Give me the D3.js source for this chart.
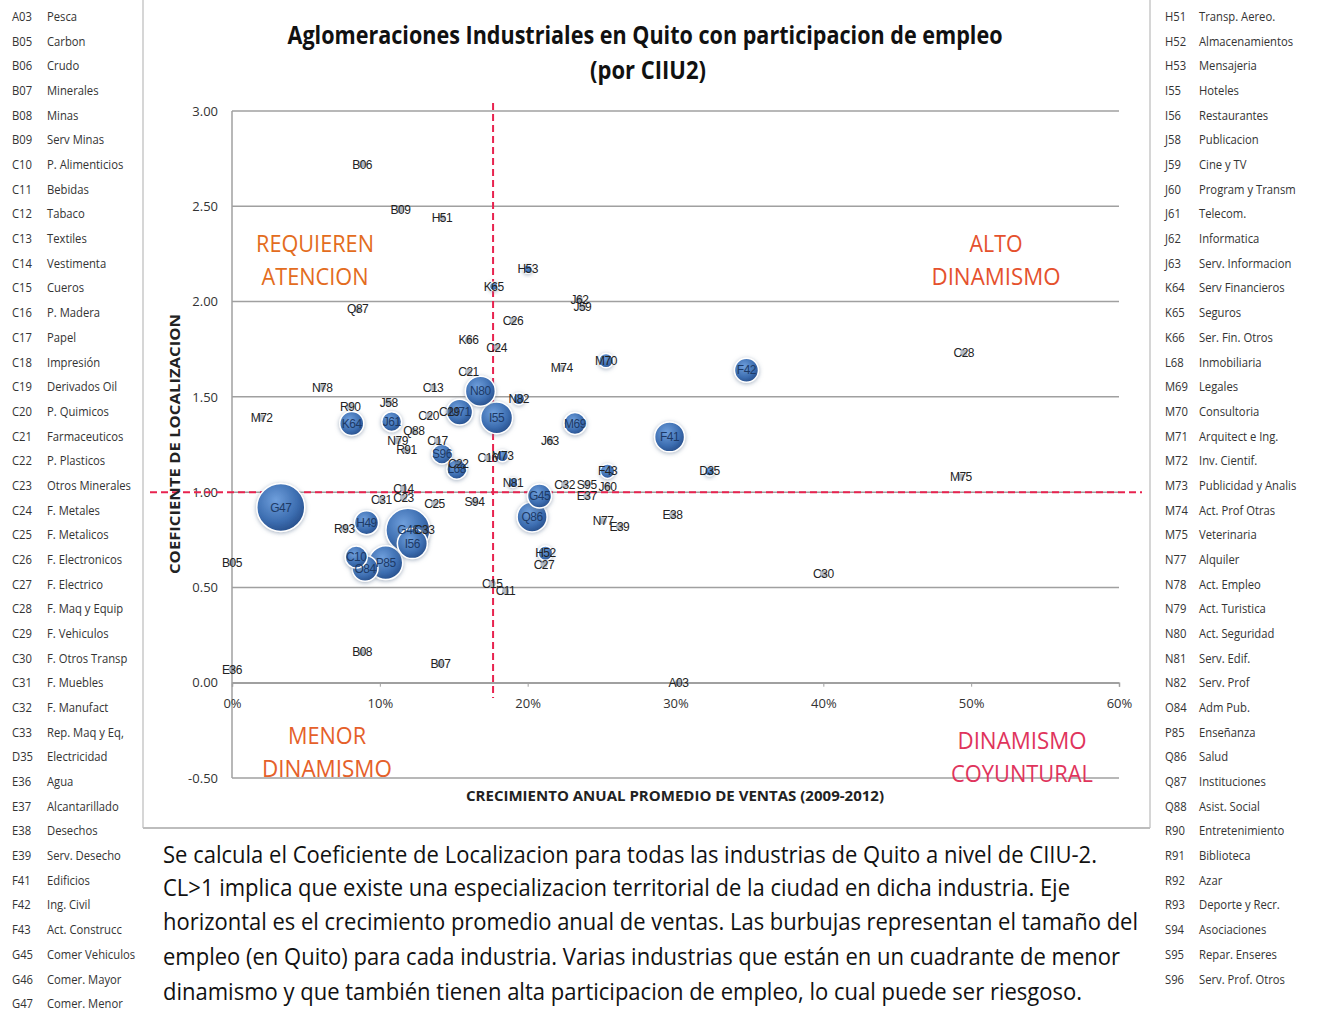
<!DOCTYPE html>
<html><head><meta charset="utf-8">
<script src="https://cdn.jsdelivr.net/npm/d3@7"></script>
<style>
html,body{margin:0;padding:0;background:#fff;}
svg{display:block;}
</style></head>
<body>
<svg id="chart" width="1319" height="1011"></svg>
<script>
// ---------- DATA ----------
const legendCodes = ["A03","B05","B06","B07","B08","B09","C10","C11","C12","C13","C14","C15","C16","C17","C18","C19","C20","C21","C22","C23","C24","C25","C26","C27","C28","C29","C30","C31","C32","C33","D35","E36","E37","E38","E39","F41","F42","F43","G45","G46","G47",
 "H51","H52","H53","I55","I56","J58","J59","J60","J61","J62","J63","K64","K65","K66","L68","M69","M70","M71","M72","M73","M74","M75","N77","N78","N79","N80","N81","N82","O84","P85","Q86","Q87","Q88","R90","R91","R92","R93","S94","S95","S96"];
const legendNames = ["Pesca","Carbon","Crudo","Minerales","Minas","Serv Minas","P. Alimenticios","Bebidas","Tabaco","Textiles","Vestimenta","Cueros","P. Madera","Papel","Impresión","Derivados Oil","P. Quimicos","Farmaceuticos","P. Plasticos","Otros Minerales","F. Metales","F. Metalicos","F. Electronicos","F. Electrico","F. Maq y Equip","F. Vehiculos","F. Otros Transp","F. Muebles","F. Manufact","Rep. Maq y Eq,","Electricidad","Agua","Alcantarillado","Desechos","Serv. Desecho","Edificios","Ing. Civil","Act. Construcc","Comer Vehiculos","Comer. Mayor","Comer. Menor",
 "Transp. Aereo.","Almacenamientos","Mensajeria","Hoteles","Restaurantes","Publicacion","Cine y TV","Program y Transm","Telecom.","Informatica","Serv. Informacion","Serv Financieros","Seguros","Ser. Fin. Otros","Inmobiliaria","Legales","Consultoria","Arquitect e Ing.","Inv. Cientif.","Publicidad y Analis","Act. Prof Otras","Veterinaria","Alquiler","Act. Empleo","Act. Turistica","Act. Seguridad","Serv. Edif.","Serv. Prof","Adm Pub.","Enseñanza","Salud","Instituciones","Asist. Social","Entretenimiento","Biblioteca","Azar","Deporte y Recr.","Asociaciones","Repar. Enseres","Serv. Prof. Otros"];

const pointCodes = ["A03","B05","B06","B07","B08","B09","C10","C11","C13","C14","C15","C16","C17","C20","C21","C22","C23","C24","C25","C26","C27","C28","C29","C30","C31","C32","C33","D35","E36","E37","E38","E39","F41","F42","F43","G45","G46","G47","H49","H51","H52","H53","I55","I56","J58","J59","J60","J61","J62","J63","K64","K65","K66","L68","M69","M70","M71","M72","M73","M74","M75","N77","N78","N79","N80","N81","N82","O84","P85","Q86","Q87","Q88","R90","R91","R93","S94","S95","S96"];
// crecimiento anual promedio de ventas (%)
const growth = [30.2,0.0,8.8,14.1,8.8,11.4,8.4,18.5,13.6,11.6,17.6,17.3,13.9,13.3,16.0,15.3,11.6,17.9,13.7,19.0,21.1,49.5,14.7,40.0,10.1,22.5,13.0,32.3,0.0,24.0,29.8,26.2,29.6,34.8,25.4,20.8,11.9,3.3,9.1,14.2,21.2,20.0,17.9,12.2,10.6,23.7,25.4,10.8,23.5,21.5,8.1,17.7,16.0,15.2,23.2,25.3,15.4,2.0,18.3,22.3,49.3,25.1,6.1,11.2,16.8,19.0,19.4,9.0,10.4,20.3,8.5,12.3,8.0,11.8,7.6,16.4,24.0,14.2];
// coeficiente de localizacion
const locCoef = [0.00,0.63,2.72,0.10,0.16,2.48,0.66,0.48,1.55,1.02,0.52,1.18,1.27,1.40,1.63,1.15,0.97,1.76,0.94,1.90,0.62,1.73,1.42,0.57,0.96,1.04,0.80,1.11,0.07,0.98,0.88,0.82,1.29,1.64,1.11,0.98,0.80,0.92,0.84,2.44,0.68,2.17,1.39,0.73,1.47,1.97,1.03,1.37,2.01,1.27,1.36,2.08,1.80,1.12,1.36,1.69,1.42,1.39,1.19,1.65,1.08,0.85,1.55,1.27,1.53,1.05,1.49,0.60,0.63,0.87,1.96,1.32,1.45,1.22,0.81,0.95,1.04,1.20];
// participacion de empleo (tamaño relativo de burbuja)
const employment = [1,1,2,1,1,1,21,1,1,1,1,1,1,1,1,1,1,1,1,1,1,1,1,1,1,1,1,4,1,1,1,1,39,25,9,25,84,100,25,2,9,3,44,39,1,1,1,17,2,1,25,3,2,17,21,9,29,1,6,2,1,1,2,1,39,4,6,29,50,39,2,1,1,1,1,1,1,17];

const yTicks = [-0.5,0,0.5,1,1.5,2,2.5,3];
const xTicks = [0,10,20,30,40,50,60];

const titleLines = ["Aglomeraciones Industriales en Quito con participacion de empleo","(por CIIU2)"];
const xTitle = "CRECIMIENTO ANUAL PROMEDIO  DE VENTAS (2009-2012)";
const yTitle = "COEFICIENTE DE LOCALIZACION";
const noteLines = [
 "Se calcula el Coeficiente de Localizacion para todas las industrias de Quito a nivel de CIIU-2.",
 "CL>1 implica que existe una especializacion territorial de la ciudad en dicha industria. Eje",
 "horizontal es el crecimiento promedio anual de ventas. Las burbujas representan el tamaño del",
 "empleo (en Quito) para cada industria. Varias industrias que están en un cuadrante de menor",
 "dinamismo y que también tienen alta participacion de empleo, lo cual puede ser riesgoso."];

// ---------- DRAW ----------
const svg = d3.select("#chart");
const narrow = "'Liberation Sans Narrow','Arial Narrow','Open Sans',sans-serif";
const defs = svg.append("defs");
const grad = defs.append("radialGradient").attr("id","bub").attr("cx","40%").attr("cy","35%").attr("r","65%");
grad.append("stop").attr("offset","0%").attr("stop-color","#6f9fdc");
grad.append("stop").attr("offset","70%").attr("stop-color","#3c6db0");
grad.append("stop").attr("offset","100%").attr("stop-color","#2a5390");
const f = defs.append("filter").attr("id","sh").attr("x","-50%").attr("y","-50%").attr("width","200%").attr("height","200%");
f.append("feDropShadow").attr("dx",0).attr("dy",1).attr("stdDeviation",2).attr("flood-color","#6a7f99").attr("flood-opacity",0.6);

const x = d3.scaleLinear().domain([0,60]).range([232,1119]);
const y = d3.scaleLinear().domain([-0.5,3]).range([778,111]);
const r = d3.scaleSqrt().domain([0,100]).range([0,24]);

// frame
svg.append("line").attr("x1",143).attr("x2",143).attr("y1",0).attr("y2",828).attr("stroke","#c8c8c8").attr("stroke-width",1.5);
svg.append("line").attr("x1",1150).attr("x2",1150).attr("y1",0).attr("y2",828).attr("stroke","#c8c8c8").attr("stroke-width",1.5);
svg.append("line").attr("x1",143).attr("x2",1150).attr("y1",828).attr("y2",828).attr("stroke","#bdbdbd").attr("stroke-width",2);

// legends
const leftN = 41;
const legG = svg.append("g").style("font-family",narrow).style("font-size","12.5px").attr("fill","#333");
legendCodes.forEach((c,i)=>{
  const left = i < leftN;
  const row = left ? i : i - leftN;
  const yy = 21 + row*24.68;
  const x0 = left ? 12 : 1165;
  const x1 = left ? 47 : 1199;
  const t0 = legG.append("text").attr("x",x0).attr("y",yy).text(c);
  const w0 = t0.node().getComputedTextLength();
  t0.attr("textLength",w0*0.9).attr("lengthAdjust","spacingAndGlyphs");
  const t = legG.append("text").attr("x",x1).attr("y",yy).text(legendNames[i]);
  const w = t.node().getComputedTextLength();
  t.attr("textLength",w*0.9).attr("lengthAdjust","spacingAndGlyphs");
});

// gridlines
svg.append("g").selectAll("line").data(yTicks).join("line")
  .attr("x1",x(0)).attr("x2",x(60)).attr("y1",d=>y(d)).attr("y2",d=>y(d))
  .attr("stroke","#a0a0a0").attr("stroke-width",1.5);
// y axis line
svg.append("line").attr("x1",x(0)).attr("x2",x(0)).attr("y1",y(3)).attr("y2",y(-0.5)).attr("stroke","#a0a0a0").attr("stroke-width",1.5);

// y tick labels
const yAx = svg.append("g").attr("transform",`translate(${x(0)},0)`)
  .call(d3.axisLeft(y).tickValues(yTicks).tickFormat(d=>d3.format(".2f")(d).replace("\u2212","-")).tickSize(0).tickPadding(14));
yAx.select(".domain").remove();
yAx.selectAll("text").style("font-family",narrow).style("font-size","13px").attr("fill","#333");

// x axis at 0
const xAx = svg.append("g").attr("transform",`translate(0,${y(0)})`)
  .call(d3.axisBottom(x).tickValues(xTicks).tickFormat(d=>d+"%").tickSize(4).tickPadding(12));
xAx.select(".domain").attr("stroke","#a0a0a0").attr("stroke-width",1.5);
xAx.selectAll("line").attr("stroke","#a0a0a0");
xAx.selectAll("text").style("font-family",narrow).style("font-size","13px").attr("fill","#333");

// red dashed reference lines
svg.append("line").attr("x1",150).attr("x2",1142).attr("y1",y(1)).attr("y2",y(1))
  .attr("stroke","#e8234f").attr("stroke-width",2).attr("stroke-dasharray","7,4");
svg.append("line").attr("x1",x(17.66)).attr("x2",x(17.66)).attr("y1",103).attr("y2",y(-0.08))
  .attr("stroke","#e8234f").attr("stroke-width",2).attr("stroke-dasharray","7,4");

// bubbles
const pts = pointCodes.map((c,i)=>({c, g:growth[i], l:locCoef[i], e:employment[i]}))
  .sort((a,b)=>b.e-a.e);
svg.append("g").selectAll("circle").data(pts).join("circle")
  .attr("cx",d=>x(d.g)).attr("cy",d=>y(d.l)).attr("r",d=>Math.max(3.5,r(d.e)))
  .attr("fill",d=>d.e>2?"url(#bub)":"#5a6a80").attr("fill-opacity",d=>d.e>2?1:0.45)
  .attr("stroke","#fff").attr("stroke-width",d=>d.e>2?1.5:0)
  .attr("filter",d=>d.e>2?"url(#sh)":null);
svg.append("g").selectAll("text").data(pts).join("text")
  .attr("x",d=>x(d.g)).attr("y",d=>y(d.l)).attr("dy","0.35em").attr("text-anchor","middle")
  .style("font-family","'Liberation Sans',Arial,sans-serif").style("font-size","12px")
  .style("letter-spacing","-0.5px")
  .attr("fill",d=>d.e>10?"#1d3a66":"#222").text(d=>d.c);

// quadrant labels
const quad = [
  {t:["REQUIEREN","ATENCION"], w:[118,107], cx:315, y0:252, c:"#e36c20"},
  {t:["ALTO","DINAMISMO"], w:[53,129], cx:996, y0:252, c:"#e5512d"},
  {t:["MENOR","DINAMISMO"], w:[78,130], cx:327, y0:744, c:"#e5602a"},
  {t:["DINAMISMO","COYUNTURAL"], w:[129,142], cx:1022, y0:749, c:"#e0345c"}];
quad.forEach(q=>{
  q.t.forEach((s,i)=>{
    svg.append("text").attr("x",q.cx).attr("y",q.y0+i*33).attr("text-anchor","middle")
      .style("font-family",narrow).style("font-size","24px").attr("fill",q.c)
      .attr("textLength",q.w[i]).attr("lengthAdjust","spacingAndGlyphs").text(s);
  });
});

// titles
svg.append("text").attr("x",645).attr("y",44).attr("text-anchor","middle")
  .style("font-family",narrow).style("font-size","25px").style("font-weight","bold").attr("fill","#111")
  .attr("textLength",715).attr("lengthAdjust","spacingAndGlyphs").text(titleLines[0]);
svg.append("text").attr("x",648).attr("y",79).attr("text-anchor","middle")
  .style("font-family",narrow).style("font-size","25px").style("font-weight","bold").attr("fill","#111")
  .attr("textLength",116).attr("lengthAdjust","spacingAndGlyphs").text(titleLines[1]);

svg.append("text").attr("x",675).attr("y",801).attr("text-anchor","middle")
  .style("font-family",narrow).style("font-size","15px").style("font-weight","bold").attr("fill","#222")
  .attr("textLength",418).attr("lengthAdjust","spacingAndGlyphs").text(xTitle);
svg.append("text").attr("transform","translate(180,444) rotate(-90)").attr("text-anchor","middle")
  .style("font-family",narrow).style("font-size","15px").style("font-weight","bold").attr("fill","#222")
  .attr("textLength",260).attr("lengthAdjust","spacingAndGlyphs").text(yTitle);

// note paragraph
const noteW = [934,907,975,957,919];
const noteY = [863,896,930,965,1000];
noteLines.forEach((s,i)=>{
  svg.append("text").attr("x",163).attr("y",noteY[i])
    .style("font-family",narrow).style("font-size","23px").attr("fill","#111")
    .attr("textLength",noteW[i]).attr("lengthAdjust","spacingAndGlyphs").text(s);
});
</script>
</body></html>
